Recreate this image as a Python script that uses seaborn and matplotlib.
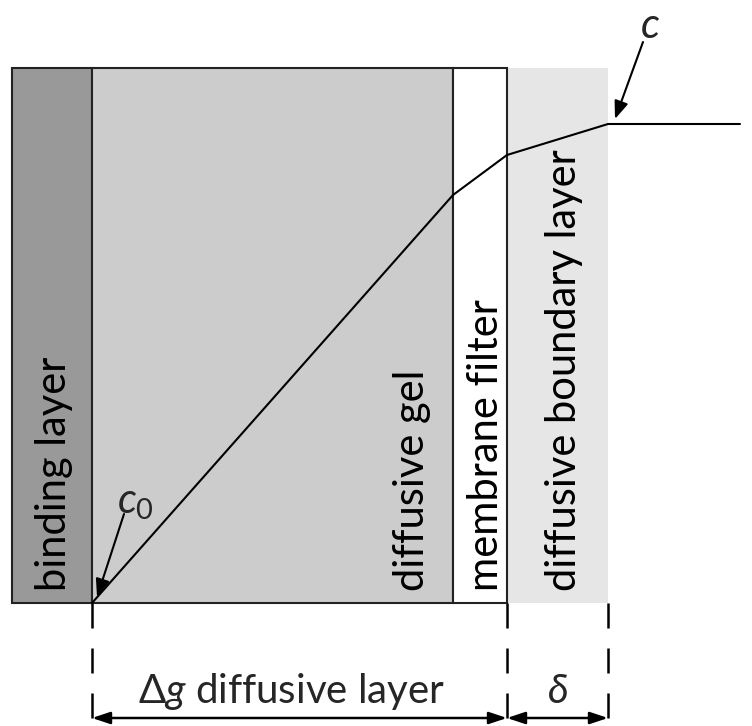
import seaborn as sns
import matplotlib.pyplot as plt
import pandas as pd

# Layer geometry (diagram units, y grows downward)
layer_names = ["binding layer", "diffusive gel", "membrane filter", "diffusive boundary layer"]
layer_edges = [12, 92, 453, 507, 608]
layer_top = 68
layer_bottom = 603

# Concentration profile through the layers
profile_x = [92, 453, 507, 608, 740]
profile_y = [603, 195, 155, 124, 124]

# Dimension labels below the layers
dim_labels = ["$\\Delta g$ diffusive layer", "$\\delta$"]
dim_edges = [92, 507, 608]

sns.set_theme(style="white")
plt.rcParams["font.family"] = ["Lato", "DejaVu Sans"]
plt.rcParams["mathtext.fontset"] = "custom"
plt.rcParams["mathtext.it"] = "Lato:italic"
plt.rcParams["mathtext.rm"] = "Lato"

fig = plt.figure(figsize=(7.52, 7.26), dpi=100)
ax = fig.add_axes([0, 0, 1, 1])

fills = ["#999999", "#cccccc", "#ffffff", "#e6e6e6"]
edges = ["#222222", "#222222", "#222222", "none"]
label_x = [54, 412, 486, 564]
lefts = layer_edges[:-1]
widths = [r - l for l, r in zip(layer_edges[:-1], layer_edges[1:])]
# draw the boundary layer first so the framed layers sit on top
for i in [3, 0, 1, 2]:
    ax.bar(lefts[i], layer_bottom - layer_top, width=widths[i], bottom=layer_top,
           align="edge", color=fills[i], edgecolor=edges[i], linewidth=1.5, zorder=1)
    ax.text(label_x[i], 591, layer_names[i], rotation=90, ha="center", va="bottom",
            fontsize=30, color="black", zorder=3)

df = pd.DataFrame({"x": profile_x, "y": profile_y})
sns.lineplot(data=df, x="x", y="y", sort=False, estimator=None, color="black",
             linewidth=1.5, ax=ax, zorder=4)
ax.set_xlim(0, 752)
ax.set_ylim(726, 0)
ax.axis("off")

# concentration labels with arrows
arrow = dict(arrowstyle="-|>,head_length=0.9,head_width=0.35", color="black", lw=1.5,
             shrinkA=0, shrinkB=0)
ax.annotate("", xy=(profile_x[3] + 7, profile_y[3] - 5), xytext=(643, 42), arrowprops=arrow)
ax.text(650, 26, "$c$", fontsize=30, ha="center", va="center")
ax.annotate("", xy=(profile_x[0] + 5, profile_y[0] - 6), xytext=(124, 514), arrowprops=arrow)
ax.text(135, 503, "$c_0$", fontsize=30, ha="center", va="center")

# dashed extension lines and dimension arrows
for x in dim_edges:
    ax.plot([x, x], [layer_bottom, 720], color="black", lw=1.8, ls=(0, (10, 8)))
dim_arrow = dict(arrowstyle="<|-|>,head_length=0.9,head_width=0.3", color="black",
                 lw=1.8, shrinkA=0, shrinkB=0)
for i, lab in enumerate(dim_labels):
    x0, x1 = dim_edges[i], dim_edges[i + 1]
    ax.annotate("", xy=(x0, 718), xytext=(x1, 718), arrowprops=dim_arrow)
    ax.text((x0 + x1) / 2 - (8 if i == 0 else 0), 703, lab, fontsize=29, ha="center",
            va="baseline")

fig.savefig("out.png", dpi=100)
